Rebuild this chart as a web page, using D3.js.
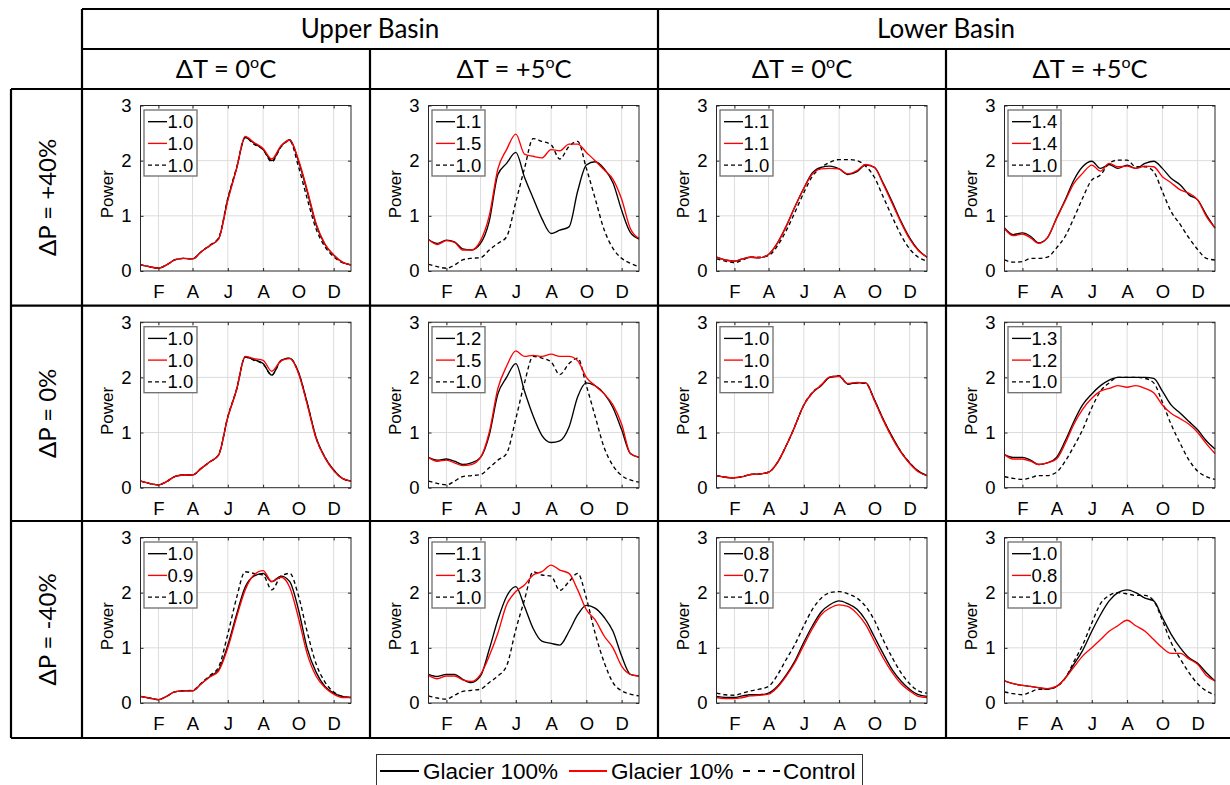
<!DOCTYPE html>
<html>
<head>
<meta charset="utf-8">
<script src="https://cdn.jsdelivr.net/npm/d3@7"></script>
<style>
  body { margin: 0; background: #fff; }
  svg text { fill: #000; }
</style>
</head>
<body>
<svg id="chart"></svg>
<script>
// ---- data (semi-monthly samples) ----
var days = [1, 16, 32, 46, 60, 75, 91, 106, 121, 136, 152, 167, 182, 197, 213, 228, 244, 259, 274, 289, 305, 320, 335, 350, 365];
var monthTicks = [32, 91, 152, 213, 274, 335];
var monthLabels = ["F", "A", "J", "A", "O", "D"];
var powerTicks = [0, 1, 2, 3];

var basinLabels = ["Upper Basin", "Lower Basin"];
var tempLabels = ["0", "+5"];
var precipLabels = ["\u0394P = +40%", "\u0394P = 0%", "\u0394P = -40%"];
var seriesNames = ["Glacier 100%", "Glacier 10%", "Control"];

// legend ratios, one row per precipitation case, [g100, g10, control] per column
var ratiosRow1 = [["1.0", "1.0", "1.0"], ["1.1", "1.5", "1.0"], ["1.1", "1.1", "1.0"], ["1.4", "1.4", "1.0"]];
var ratiosRow2 = [["1.0", "1.0", "1.0"], ["1.2", "1.5", "1.0"], ["1.0", "1.0", "1.0"], ["1.3", "1.2", "1.0"]];
var ratiosRow3 = [["1.0", "0.9", "1.0"], ["1.1", "1.3", "1.0"], ["0.8", "0.7", "1.0"], ["1.0", "0.8", "1.0"]];

// dP = +40%
var g100_r1c1 = [0.11,0.08,0.05,0.11,0.20,0.23,0.22,0.35,0.46,0.58,1.30,1.85,2.42,2.32,2.20,2.00,2.26,2.38,2.00,1.45,0.83,0.48,0.29,0.16,0.11];
var g10_r1c1  = [0.11,0.08,0.05,0.11,0.20,0.23,0.22,0.35,0.46,0.58,1.28,1.85,2.44,2.33,2.22,2.03,2.27,2.37,2.02,1.48,0.85,0.49,0.29,0.16,0.11];
var ctrl_r1c1 = [0.11,0.08,0.05,0.11,0.20,0.23,0.22,0.35,0.47,0.60,1.32,1.87,2.42,2.30,2.20,1.98,2.25,2.36,1.90,1.32,0.75,0.44,0.26,0.15,0.11];

var g100_r1c2 = [0.57,0.50,0.56,0.53,0.40,0.38,0.50,0.90,1.75,1.95,2.15,1.70,1.32,0.95,0.68,0.74,0.80,1.45,1.92,1.98,1.85,1.60,1.10,0.70,0.58];
var g10_r1c2  = [0.57,0.48,0.55,0.52,0.38,0.38,0.55,1.00,1.85,2.20,2.48,2.12,2.08,2.05,2.20,2.18,2.30,2.30,2.15,2.00,1.83,1.66,1.30,0.77,0.59];
var ctrl_r1c2 = [0.12,0.08,0.05,0.11,0.20,0.23,0.24,0.38,0.50,0.62,1.25,1.86,2.40,2.35,2.29,2.03,2.26,2.35,1.86,1.32,0.74,0.41,0.23,0.14,0.08];

var g100_r1c3 = [0.25,0.20,0.18,0.22,0.25,0.24,0.30,0.50,0.80,1.15,1.50,1.78,1.88,1.90,1.85,1.75,1.80,1.92,1.88,1.60,1.25,0.90,0.60,0.38,0.25];
var g10_r1c3  = [0.25,0.20,0.18,0.22,0.25,0.24,0.30,0.50,0.80,1.15,1.50,1.76,1.85,1.86,1.85,1.76,1.82,1.93,1.88,1.58,1.22,0.88,0.58,0.37,0.25];
var ctrl_r1c3 = [0.22,0.18,0.15,0.20,0.25,0.25,0.28,0.45,0.72,1.05,1.42,1.72,1.88,1.97,2.02,2.02,2.00,1.90,1.70,1.35,0.98,0.65,0.40,0.25,0.18];

var g100_r1c4 = [0.78,0.66,0.69,0.63,0.51,0.60,0.96,1.29,1.65,1.89,1.99,1.86,1.93,1.86,1.92,1.86,1.95,1.99,1.86,1.68,1.56,1.38,1.29,1.02,0.78];
var g10_r1c4  = [0.77,0.64,0.67,0.60,0.50,0.60,0.95,1.27,1.59,1.77,1.92,1.81,1.95,1.89,1.90,1.86,1.90,1.89,1.71,1.60,1.47,1.41,1.29,0.99,0.78];
var ctrl_r1c4 = [0.20,0.16,0.17,0.23,0.23,0.25,0.42,0.63,0.96,1.32,1.65,1.74,1.95,2.01,2.01,1.89,1.89,1.80,1.44,1.08,0.84,0.60,0.39,0.23,0.20];

// dP = 0%
var g100_r2c1 = [0.12,0.08,0.05,0.11,0.20,0.23,0.23,0.35,0.47,0.59,1.28,1.77,2.37,2.32,2.25,2.04,2.31,2.35,2.10,1.55,0.90,0.55,0.32,0.17,0.12];
var g10_r2c1  = [0.12,0.08,0.05,0.11,0.20,0.23,0.23,0.35,0.47,0.59,1.28,1.77,2.38,2.34,2.31,2.11,2.30,2.34,2.08,1.52,0.88,0.54,0.31,0.17,0.12];
var ctrl_r2c1 = [0.12,0.08,0.05,0.11,0.20,0.23,0.23,0.35,0.47,0.60,1.29,1.78,2.37,2.31,2.24,2.04,2.30,2.35,2.09,1.54,0.89,0.55,0.32,0.17,0.12];

var g100_r2c2 = [0.55,0.50,0.52,0.48,0.42,0.45,0.55,0.95,1.70,2.00,2.25,1.75,1.30,0.95,0.82,0.85,1.10,1.65,1.90,1.85,1.70,1.45,1.05,0.62,0.55];
var g10_r2c2  = [0.55,0.48,0.50,0.45,0.40,0.42,0.55,1.00,1.80,2.20,2.48,2.38,2.40,2.38,2.42,2.38,2.38,2.30,2.00,1.85,1.70,1.50,1.15,0.62,0.55];
var ctrl_r2c2 = [0.12,0.08,0.05,0.12,0.20,0.22,0.24,0.36,0.50,0.62,1.25,1.90,2.38,2.35,2.28,2.05,2.25,2.35,1.85,1.30,0.72,0.40,0.22,0.14,0.10];

var g100_r2c3 = [0.22,0.19,0.18,0.20,0.24,0.25,0.28,0.45,0.75,1.10,1.50,1.72,1.85,2.00,2.02,1.88,1.90,1.90,1.60,1.25,0.92,0.65,0.45,0.30,0.22];
var g10_r2c3  = [0.22,0.19,0.18,0.20,0.24,0.25,0.28,0.45,0.75,1.10,1.50,1.72,1.86,2.01,2.02,1.89,1.91,1.90,1.58,1.23,0.90,0.64,0.44,0.29,0.22];
var ctrl_r2c3 = [0.22,0.19,0.18,0.20,0.24,0.25,0.28,0.45,0.75,1.10,1.50,1.73,1.86,2.00,2.03,1.88,1.90,1.89,1.59,1.24,0.91,0.65,0.45,0.30,0.22];

var g100_r2c4 = [0.60,0.55,0.55,0.50,0.42,0.45,0.55,0.85,1.20,1.50,1.70,1.85,1.95,2.00,2.00,2.00,2.00,1.98,1.75,1.50,1.35,1.20,1.05,0.85,0.70];
var g10_r2c4  = [0.60,0.52,0.52,0.48,0.42,0.45,0.52,0.80,1.15,1.42,1.62,1.75,1.80,1.85,1.82,1.85,1.80,1.72,1.50,1.35,1.25,1.15,1.00,0.80,0.62];
var ctrl_r2c4 = [0.20,0.17,0.15,0.18,0.22,0.22,0.28,0.48,0.75,1.05,1.45,1.75,1.90,2.00,2.00,2.00,1.98,1.90,1.55,1.15,0.80,0.50,0.30,0.20,0.15];

// dP = -40%
var g100_r3c1 = [0.12,0.09,0.06,0.12,0.20,0.22,0.22,0.35,0.48,0.60,1.05,1.60,2.10,2.30,2.35,2.20,2.30,2.20,1.70,1.00,0.55,0.30,0.18,0.12,0.10];
var g10_r3c1  = [0.12,0.09,0.06,0.12,0.20,0.22,0.22,0.35,0.47,0.58,1.00,1.55,2.05,2.32,2.40,2.20,2.28,2.10,1.55,0.90,0.48,0.28,0.16,0.10,0.10];
var ctrl_r3c1 = [0.12,0.09,0.06,0.12,0.20,0.22,0.23,0.36,0.50,0.65,1.25,1.90,2.38,2.35,2.32,2.05,2.30,2.35,1.95,1.30,0.70,0.38,0.20,0.12,0.10];

var g100_r3c2 = [0.52,0.48,0.52,0.52,0.43,0.37,0.49,0.97,1.51,1.93,2.11,1.75,1.35,1.12,1.08,1.05,1.30,1.60,1.77,1.72,1.55,1.30,0.85,0.52,0.49];
var g10_r3c2  = [0.50,0.44,0.49,0.49,0.42,0.39,0.52,0.85,1.27,1.78,2.02,2.14,2.32,2.38,2.50,2.41,2.35,2.05,1.69,1.51,1.21,1.00,0.67,0.52,0.49];
var ctrl_r3c2 = [0.13,0.09,0.07,0.14,0.21,0.23,0.25,0.37,0.49,0.67,1.33,1.87,2.38,2.32,2.30,2.04,2.20,2.35,1.90,1.27,0.73,0.37,0.22,0.16,0.13];

var g100_r3c3 = [0.12,0.10,0.10,0.13,0.15,0.15,0.18,0.30,0.50,0.75,1.10,1.40,1.65,1.78,1.85,1.80,1.70,1.50,1.20,0.90,0.60,0.40,0.25,0.15,0.12];
var g10_r3c3  = [0.10,0.08,0.08,0.10,0.13,0.14,0.16,0.28,0.48,0.72,1.05,1.35,1.60,1.72,1.78,1.75,1.62,1.42,1.12,0.82,0.55,0.35,0.22,0.12,0.10];
var ctrl_r3c3 = [0.18,0.15,0.14,0.18,0.22,0.25,0.30,0.50,0.78,1.05,1.40,1.70,1.90,2.00,2.02,1.98,1.90,1.75,1.50,1.15,0.82,0.55,0.35,0.22,0.18];

var g100_r3c4 = [0.40,0.35,0.32,0.30,0.28,0.25,0.30,0.45,0.70,0.95,1.30,1.60,1.85,2.00,2.05,2.00,1.90,1.85,1.55,1.25,1.00,0.82,0.72,0.55,0.40];
var g10_r3c4  = [0.40,0.35,0.32,0.30,0.28,0.26,0.30,0.45,0.65,0.85,1.00,1.15,1.30,1.40,1.50,1.40,1.30,1.15,1.00,0.90,0.90,0.80,0.70,0.50,0.40];
var ctrl_r3c4 = [0.20,0.17,0.15,0.20,0.25,0.25,0.30,0.45,0.75,1.05,1.45,1.80,1.95,2.00,1.98,1.95,1.95,1.85,1.50,1.10,0.80,0.55,0.35,0.22,0.15];

// ---- layout ----
var svgWidth = 1230;
var svgHeight = 785;
var colLefts = [82, 370, 658, 946];
var rowTops = [89, 305.7, 521];
var tableRight = 1234;
var tableBottom = 738;
var plotOffset = { left: 58.5, top: 16.5 };
var pw = 210.5;
var ph = 165.5;

var axisFont = "'Liberation Sans', Arial, Helvetica, sans-serif";
var headFont = "Lato, 'Open Sans', sans-serif";

var svg = d3.select("#chart")
  .attr("width", svgWidth)
  .attr("height", svgHeight);

// Build panel table from the named arrays
var panels = [
  [[g100_r1c1, g10_r1c1, ctrl_r1c1], [g100_r1c2, g10_r1c2, ctrl_r1c2], [g100_r1c3, g10_r1c3, ctrl_r1c3], [g100_r1c4, g10_r1c4, ctrl_r1c4]],
  [[g100_r2c1, g10_r2c1, ctrl_r2c1], [g100_r2c2, g10_r2c2, ctrl_r2c2], [g100_r2c3, g10_r2c3, ctrl_r2c3], [g100_r2c4, g10_r2c4, ctrl_r2c4]],
  [[g100_r3c1, g10_r3c1, ctrl_r3c1], [g100_r3c2, g10_r3c2, ctrl_r3c2], [g100_r3c3, g10_r3c3, ctrl_r3c3], [g100_r3c4, g10_r3c4, ctrl_r3c4]]
];
var ratios = [ratiosRow1, ratiosRow2, ratiosRow3];

var seriesStyle = [
  { color: "#000", dash: null },
  { color: "#ff0000", dash: null },
  { color: "#000", dash: "4,3" }
];

var x = d3.scaleLinear().domain([1, 365]).range([0, pw]);
var y = d3.scaleLinear().domain([0, 3]).range([ph, 0]);

var line = d3.line()
  .x((d, i) => x(days[i]))
  .y(d => y(d))
  .curve(d3.curveMonotoneX);

function drawPanel(g, series, labels) {
  // grid lines
  g.selectAll(".vgrid").data(monthTicks).enter().append("line")
    .attr("x1", d => x(d)).attr("x2", d => x(d))
    .attr("y1", 0).attr("y2", ph)
    .attr("stroke", "#dcdcdc").attr("stroke-width", 1);
  g.selectAll(".hgrid").data(powerTicks.slice(1, 3)).enter().append("line")
    .attr("x1", 0).attr("x2", pw)
    .attr("y1", d => y(d)).attr("y2", d => y(d))
    .attr("stroke", "#dcdcdc").attr("stroke-width", 1);

  // series (control first so solid lines sit on top)
  [2, 0, 1].forEach(function(k) {
    g.append("path")
      .datum(series[k])
      .attr("d", line)
      .attr("fill", "none")
      .attr("stroke", seriesStyle[k].color)
      .attr("stroke-width", 1.35)
      .attr("stroke-dasharray", seriesStyle[k].dash);
  });

  // axes
  var bottomAxis = d3.axisBottom(x).tickValues(monthTicks)
    .tickFormat((d, i) => monthLabels[i]).tickSizeInner(-3).tickSizeOuter(0).tickPadding(14);
  var leftAxis = d3.axisLeft(y).tickValues(powerTicks)
    .tickFormat(d3.format("d")).tickSizeInner(-3).tickSizeOuter(0).tickPadding(9);
  var topAxis = d3.axisTop(x).tickValues(monthTicks).tickFormat("").tickSizeInner(-3).tickSizeOuter(0);
  var rightAxis = d3.axisRight(y).tickValues(powerTicks).tickFormat("").tickSizeInner(-3).tickSizeOuter(0);

  g.append("g").attr("transform", `translate(0,${ph})`).call(bottomAxis);
  g.append("g").call(leftAxis);
  g.append("g").call(topAxis);
  g.append("g").attr("transform", `translate(${pw},0)`).call(rightAxis);
  g.selectAll(".domain").remove();
  g.selectAll(".tick line").attr("stroke", "#262626");
  g.selectAll(".tick text")
    .attr("font-family", axisFont)
    .attr("font-size", 18.5)
    .attr("fill", "#262626");

  g.append("rect")
    .attr("width", pw).attr("height", ph)
    .attr("fill", "none").attr("stroke", "#262626").attr("stroke-width", 1);

  g.append("text")
    .attr("transform", `translate(-32,${ph / 2 + 6}) rotate(-90)`)
    .attr("text-anchor", "middle")
    .attr("dominant-baseline", "middle")
    .attr("font-family", axisFont)
    .attr("font-size", 17)
    .attr("fill", "#262626")
    .text("Power");

  // legend box
  var lg = g.append("g").attr("transform", "translate(3.5,4.5)");
  lg.append("rect")
    .attr("width", 53).attr("height", 66)
    .attr("fill", "#fff").attr("stroke", "#6e6e6e").attr("stroke-width", 1.3);
  labels.forEach(function(lab, k) {
    var ly = 11.7 + k * 21.7;
    lg.append("line")
      .attr("x1", 4).attr("x2", 23).attr("y1", ly).attr("y2", ly)
      .attr("stroke", seriesStyle[k].color)
      .attr("stroke-width", 1.35)
      .attr("stroke-dasharray", seriesStyle[k].dash);
    lg.append("text")
      .attr("x", 23.5).attr("y", ly)
      .attr("dominant-baseline", "central")
      .attr("font-family", axisFont)
      .attr("font-size", 18.5)
      .attr("fill", "#000")
      .text(lab);
  });
}

panels.forEach(function(row, r) {
  row.forEach(function(series, c) {
    var g = svg.append("g")
      .attr("transform", `translate(${colLefts[c] + plotOffset.left},${rowTops[r] + plotOffset.top})`);
    drawPanel(g, series, ratios[r][c]);
  });
});

// ---- table frame ----
var frame = svg.append("g").attr("stroke", "#000").attr("stroke-width", 2.2);
var hLines = [[82, 9], [82, 49], [11, 89], [11, rowTops[1]], [11, rowTops[2]], [11, tableBottom]];
hLines.forEach(function(h) {
  frame.append("line").attr("x1", h[0]).attr("x2", tableRight).attr("y1", h[1]).attr("y2", h[1]);
});
var vLines = [[11, 89], [82, 9], [370, 49], [658, 9], [946, 49]];
vLines.forEach(function(v) {
  frame.append("line").attr("x1", v[0]).attr("x2", v[0]).attr("y1", v[1]).attr("y2", tableBottom);
});

// ---- headers ----
basinLabels.forEach(function(b, i) {
  var cx = (colLefts[i * 2] + (i === 0 ? colLefts[2] : tableRight)) / 2;
  svg.append("text")
    .attr("x", cx).attr("y", 38)
    .attr("text-anchor", "middle")
    .attr("font-family", headFont)
    .attr("font-size", 26)
    .text(b);
});

colLefts.forEach(function(cl, c) {
  var t = svg.append("text")
    .attr("x", cl + 144).attr("y", 78)
    .attr("text-anchor", "middle")
    .attr("font-family", headFont)
    .attr("font-size", 25.5);
  t.append("tspan").text("\u0394T = " + tempLabels[c % 2]);
  t.append("tspan").attr("font-size", 16).attr("dy", -10).text("o");
  t.append("tspan").attr("dy", 10).text("C");
});

precipLabels.forEach(function(p, r) {
  var cy = (rowTops[r] + (r < 2 ? rowTops[r + 1] : tableBottom)) / 2;
  svg.append("text")
    .attr("transform", `translate(46.5,${cy}) rotate(-90)`)
    .attr("text-anchor", "middle")
    .attr("dominant-baseline", "central")
    .attr("font-family", headFont)
    .attr("font-size", 24)
    .text(p);
});

// ---- bottom legend ----
var legend = svg.append("g");
legend.append("rect")
  .attr("x", 376.5).attr("y", 754.5).attr("width", 486).attr("height", 45)
  .attr("fill", "#fff").attr("stroke", "#333").attr("stroke-width", 1);
var legendItems = [
  { x1: 380, x2: 419, tx: 423 },
  { x1: 569, x2: 607, tx: 611 },
  { x1: 743, x2: 780, tx: 783 }
];
var legendDash = [null, null, "7,8"];
seriesNames.forEach(function(name, k) {
  var it = legendItems[k];
  legend.append("line")
    .attr("x1", it.x1).attr("x2", it.x2).attr("y1", 771).attr("y2", 771)
    .attr("stroke", seriesStyle[k].color)
    .attr("stroke-width", 2)
    .attr("stroke-dasharray", legendDash[k]);
  legend.append("text")
    .attr("x", it.tx).attr("y", 779)
    .attr("font-family", axisFont)
    .attr("font-size", 22.5)
    .text(name);
});
</script>
</body>
</html>
